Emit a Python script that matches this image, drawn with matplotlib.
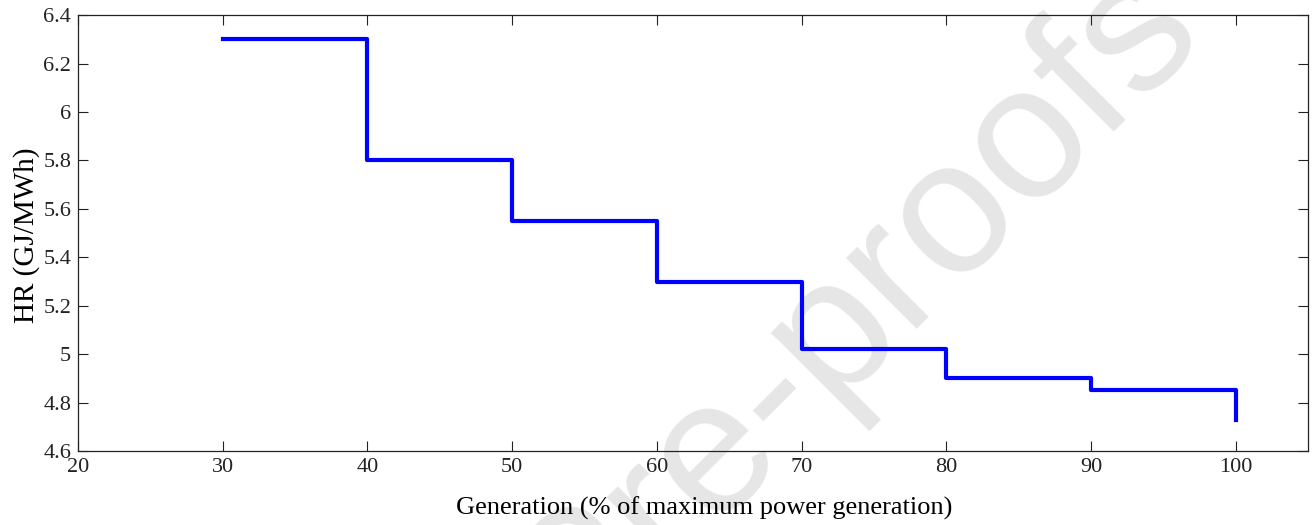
import matplotlib.pyplot as plt
from matplotlib.ticker import FuncFormatter

# 発電量 (%) と熱消費率 HR (GJ/MWh)
generation = [30, 40, 50, 60, 70, 80, 90, 100]
heat_rate = [6.3, 5.8, 5.55, 5.3, 5.02, 4.9, 4.85, 4.73]
x_ticks = [20, 30, 40, 50, 60, 70, 80, 90, 100]
y_ticks = [4.6, 4.8, 5.0, 5.2, 5.4, 5.6, 5.8, 6.0, 6.2, 6.4]

plt.rcParams["font.family"] = ["Liberation Serif", "DejaVu Serif"]

fig = plt.figure(figsize=(13.12, 5.25), dpi=100)
ax = fig.add_axes([0.0595, 0.141, 0.9375, 0.830])

# 透かし (最背面)
ax.text(0.651, 0.415, "Pre-proofs", transform=fig.transFigure,
        family="Liberation Sans", fontsize=137, color="#e6e6e6",
        rotation=45, rotation_mode="anchor", ha="center", va="center",
        zorder=0, clip_on=False)

ax.step(generation, heat_rate, where="post", color="#0000ff", linewidth=3, zorder=3)

ax.set_xlim(20, 105)
ax.set_ylim(4.6, 6.4)
ax.set_xticks(x_ticks)
ax.set_yticks(y_ticks)
fmt = FuncFormatter(lambda v, _: f"{v:g}")
ax.xaxis.set_major_formatter(fmt)
ax.yaxis.set_major_formatter(fmt)
ax.tick_params(direction="in", top=True, right=True, length=7, width=0.8,
               labelsize=16, colors="#222222")
ax.tick_params(axis="x", pad=5)
ax.tick_params(axis="y", pad=5)
for s in ax.spines.values():
    s.set_linewidth(0.9)
    s.set_color("#222222")

ax.set_xlabel("Generation (% of maximum power generation)", fontsize=19, labelpad=14)
ax.xaxis.label.set_x(0.509)
ax.set_ylabel("HR (GJ/MWh)", fontsize=21, labelpad=2)
ax.yaxis.label.set_y(0.495)

fig.savefig("out.png", dpi=100)
